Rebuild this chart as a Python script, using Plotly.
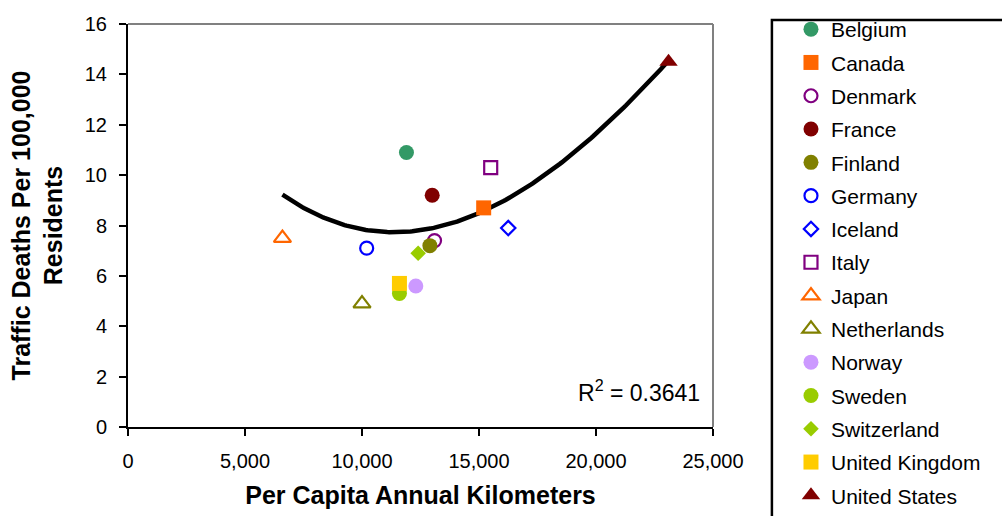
import numpy as np
import plotly.graph_objects as go

countries = ["Belgium", "Canada", "Denmark", "France", "Finland", "Germany", "Iceland",
             "Italy", "Japan", "Netherlands", "Norway", "Sweden", "Switzerland",
             "United Kingdom", "United States"]
km_per_capita = [11900, 15200, 13100, 13000, 12900, 10200, 16250,
                 15500, 6600, 10000, 12300, 11600, 12400, 11600, 23100]
deaths_per_100k = [10.9, 8.7, 7.4, 9.2, 7.2, 7.1, 7.9,
                   10.3, 7.5, 4.9, 5.6, 5.3, 6.9, 5.7, 14.5]
symbols = ["circle", "square", "circle-open", "circle", "circle", "circle-open", "diamond-open",
           "square-open", "triangle-up-open", "triangle-up-open", "circle", "circle", "diamond",
           "square", "triangle-up"]
colors = ["#339966", "#FF6600", "#800080", "#800000", "#808000", "#0000FF", "#0000FF",
          "#800080", "#FF6600", "#808000", "#CC99FF", "#99CC00", "#99CC00",
          "#FFCC00", "#800000"]
# trendline (sample points along the drawn curve)
trend_x_read = [6611, 8919, 11765, 15184, 18889, 23090]
trend_y_read = [9.18, 8.21, 7.69, 8.53, 10.81, 14.52]
r2_text = "R<sup>2</sup> = 0.3641"

FONT = "Liberation Sans, Arial, sans-serif"

fig = go.Figure()

# smooth trendline through the points
ct = np.polyfit(trend_x_read, trend_y_read, 3)
xs = np.linspace(min(km_per_capita), max(km_per_capita), 200)
fig.add_trace(go.Scatter(x=xs, y=np.polyval(ct, xs), mode="lines",
                         line=dict(color="black", width=4.5), showlegend=False,
                         hoverinfo="skip"))

size_map = {"circle": 15, "circle-open": 13, "square": 15, "square-open": 13,
            "diamond": 12, "diamond-open": 11, "triangle-up": 16, "triangle-up-open": 15}

for c, x, y, s, col in zip(countries, km_per_capita, deaths_per_100k, symbols, colors):
    fig.add_trace(go.Scatter(
        x=[x], y=[y], mode="markers", name=c, legendgroup=c,
        marker=dict(symbol=s, size=size_map[s], color=col,
                    line=dict(color=col, width=2.2 if "open" in s else 0)),
    ))

fig.update_layout(
    width=1002, height=516,
    margin=dict(l=128, r=289, t=17, b=89),
    paper_bgcolor="white", plot_bgcolor="white",
    font=dict(family=FONT, size=20, color="black"),
    showlegend=True,
    legend=dict(x=1.1333, y=1.0293, xanchor="left", yanchor="top",
                font=dict(family=FONT, size=21, color="black"),
                bgcolor="rgba(0,0,0,0)", borderwidth=0, maxheight=700,
                tracegroupgap=3, itemclick=False, itemdoubleclick=False),
    xaxis=dict(range=[0, 25000], tickvals=[0, 5000, 10000, 15000, 20000, 25000],
               tickformat=",", showgrid=False, zeroline=False,
               showline=True, linecolor="black", linewidth=2,
               ticks="outside", ticklen=7, tickwidth=2, tickcolor="black",
               ticklabelstandoff=8,
               title=dict(text="<b>Per Capita Annual Kilometers</b>",
                          font=dict(family=FONT, size=25))),
    yaxis=dict(range=[0, 16], dtick=2, showgrid=False, zeroline=False,
               showline=True, linecolor="black", linewidth=2,
               ticks="outside", ticklen=7, tickwidth=2, tickcolor="black",
               ticklabelstandoff=8,
               title=dict(text="<b>Traffic Deaths Per 100,000<br>Residents</b>",
                          font=dict(family=FONT, size=25))),
    shapes=[
        dict(type="line", xref="paper", yref="paper", x0=0, x1=1, y0=1, y1=1,
             line=dict(color="#808080", width=2)),
        dict(type="line", xref="paper", yref="paper", x0=1, x1=1, y0=0, y1=1,
             line=dict(color="#808080", width=2)),
        dict(type="rect", xref="paper", yref="paper", x0=1.1007, x1=1.7, y0=-0.5, y1=1.0098,
             line=dict(color="black", width=2.5), fillcolor="rgba(0,0,0,0)"),
    ],
    annotations=[
        dict(text=r2_text, xref="paper", yref="paper", x=0.981, y=0.09,
             xanchor="right", yanchor="middle", showarrow=False,
             font=dict(family=FONT, size=23, color="black")),
    ],
)

fig.write_html("out.html")
